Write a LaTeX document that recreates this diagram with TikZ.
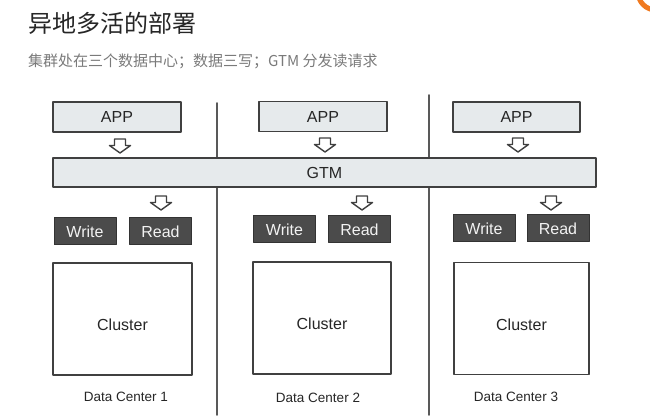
\documentclass[tikz,border=0pt]{standalone}
\usepackage{fontspec}
\setmainfont{Liberation Sans}
\newfontfamily\cjk{Noto Sans CJK SC}
\usetikzlibrary{calc}

\definecolor{boxgray}{HTML}{E6EAEC}
\definecolor{edgegray}{HTML}{404040}
\definecolor{darkbox}{HTML}{4B4B4B}
\definecolor{subgray}{HTML}{7A7A7A}
\definecolor{logoorange}{HTML}{F07A20}

\begin{document}
\begin{tikzpicture}[x=1pt,y=-1pt,line cap=round,line join=round]
  \tikzset{
    lightbox/.style={draw=edgegray,fill=boxgray,line width=1.8pt,inner sep=0pt,text=black!85,font=\fontsize{16}{19}\selectfont},
    appbox/.style={lightbox,minimum width=128pt,minimum height=30pt},
    opbox/.style={draw=black!80,fill=darkbox,text=white!95!black,line width=1pt,minimum width=62pt,minimum height=27pt,inner sep=0pt,font=\fontsize{16}{19}\selectfont},
    clusterbox/.style={draw=edgegray,line width=1.8pt,minimum width=138pt,minimum height=112pt,inner sep=0pt},
    clustertext/.style={inner sep=0pt,text=black!85,font=\fontsize{16}{19}\selectfont},
    dclabel/.style={inner sep=0pt,font=\fontsize{13.5}{16}\selectfont,text=black!85},
    divider/.style={line width=1.8pt,draw=black!65},
    hollow/.style={draw=edgegray,fill=white,line width=1.4pt}
  }

  \newcommand{\hollowarrow}[2]{
    \begin{scope}[shift={(#1,#2)}]
      \draw[hollow] (-5.5,0) -- (5.5,0) -- (5.5,6.5) -- (10.5,6.5) -- (0,14) -- (-10.5,6.5) -- (-5.5,6.5) -- cycle;
    \end{scope}
  }

  \useasboundingbox (0,0) rectangle (650,419);

  % heading
  \node[anchor=west,inner sep=0pt,font=\cjk\fontsize{24}{28}\selectfont,text=black!85] (title) at (28,23) {异地多活的部署};
  \node[anchor=west,inner sep=0pt,font=\cjk\fontsize{15}{18}\selectfont,text=subgray] (subtitle) at (28,61) {集群处在三个数据中心；数据三写；GTM 分发读请求};

  % corner logo, cut by the page edge
  \begin{scope}
    \clip (0,0) rectangle (650,419);
    \draw[logoorange,line width=5pt] (656,-8) circle (18);
  \end{scope}

  % borders between the data centers
  \coordinate (d1top) at (217,103);
  \coordinate (d1bot) at (217,415);
  \coordinate (d2top) at (429,95);
  \coordinate (d2bot) at (429,415);
  \draw[divider] (d1top) -- (d1bot);
  \draw[divider] (d2top) -- (d2bot);

  % shared GTM layer
  \node[lightbox,minimum width=543pt,minimum height=29pt] (gtm) at (324.5,172.5) {GTM};

  % Data Center 1
  \node[appbox] (app1) at (117,117) {APP};
  \node[opbox] (write1) at (85,231.5) {Write};
  \node[opbox] (read1) at (160.5,231.5) {Read};
  \node[clusterbox,minimum width=139pt] (cluster1) at (122.5,319) {};
  \node[clustertext] (ctext1) at ($(cluster1.center)+(0,6)$) {Cluster};
  \node[dclabel] (dc1) at (126,397) {Data Center 1};
  \hollowarrow{120}{139}
  \hollowarrow{161}{196}

  % Data Center 2
  \node[appbox] (app2) at (323,116.5) {APP};
  \node[opbox] (write2) at (284.5,229.5) {Write};
  \node[opbox] (read2) at (359.5,229.5) {Read};
  \node[clusterbox] (cluster2) at (322,318) {};
  \node[clustertext] (ctext2) at ($(cluster2.center)+(0,6)$) {Cluster};
  \node[dclabel] (dc2) at (318,398) {Data Center 2};
  \hollowarrow{325}{138}
  \hollowarrow{362}{196}

  % Data Center 3
  \node[appbox,minimum width=127pt] (app3) at (516.5,117) {APP};
  \node[opbox] (write3) at (484,228.5) {Write};
  \node[opbox] (read3) at (558,228.5) {Read};
  \node[clusterbox,minimum width=135pt] (cluster3) at (521.5,318.5) {};
  \node[clustertext] (ctext3) at ($(cluster3.center)+(0,6)$) {Cluster};
  \node[dclabel] (dc3) at (516,397) {Data Center 3};
  \hollowarrow{518}{138}
  \hollowarrow{551}{196}
\end{tikzpicture}
\end{document}
